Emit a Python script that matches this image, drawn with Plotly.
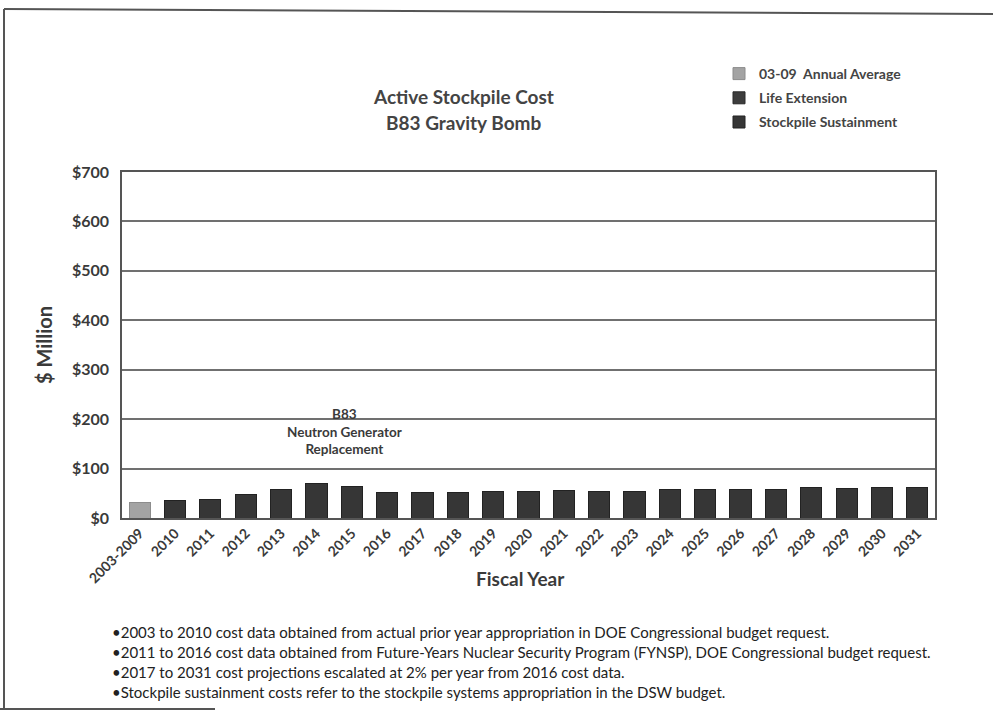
import plotly.graph_objects as go

# Fiscal-year categories and costs ($ million)
years = ["2003-2009", "2010", "2011", "2012", "2013", "2014", "2015", "2016",
         "2017", "2018", "2019", "2020", "2021", "2022", "2023", "2024",
         "2025", "2026", "2027", "2028", "2029", "2030", "2031"]
annual_average = [32, None, None, None, None, None, None, None, None, None, None, None,
                  None, None, None, None, None, None, None, None, None, None, None]
life_extension = [None] * len(years)
sustainment = [None, 36, 38, 48, 57, 70, 64, 51, 51, 51, 53, 53, 55, 54, 54, 57,
               57, 58, 57, 61, 59, 62, 62]

footnotes = [
    "•2003 to 2010 cost data obtained from actual prior year appropriation in DOE Congressional budget request.",
    "•2011 to 2016 cost data obtained from Future-Years Nuclear Security Program (FYNSP), DOE Congressional budget request.",
    "•2017 to 2031 cost projections escalated at 2% per year from 2016 cost data.",
    "•Stockpile sustainment costs refer to the stockpile systems appropriation in the DSW budget.",
]

FONT = "Lato"
TXT = "#3a3a3a"

# plot-area geometry in pixels, used to place paper-referenced items
W, H = 993, 713
L, R, T, B = 122, 935, 172, 518


def px(x):
    return (x - L) / (R - L)


def py(y):
    return (B - y) / (B - T)


fig = go.Figure()
fig.add_bar(x=years, y=annual_average, name="<b>03-09  Annual Average</b>",
            marker=dict(color="#a3a3a3", line=dict(color="#8c8c8c", width=1)),
            legendgroup="a")
fig.add_bar(x=years, y=life_extension, name="<b>Life Extension</b>",
            marker=dict(color="#3d3d3d", line=dict(color="#2a2a2a", width=1)),
            legendgroup="b")
fig.add_bar(x=years, y=sustainment, name="<b>Stockpile Sustainment</b>",
            marker=dict(color="#363636", line=dict(color="#222222", width=1)),
            legendgroup="c")


def note(text, x, y, size, xref="paper", xanchor="center", color=TXT, align="center"):
    return dict(text=text, x=x, y=y, xref=xref, yref="paper", xanchor=xanchor,
                yanchor="middle", showarrow=False, align=align,
                font=dict(family=FONT, size=size, color=color))


annotations = [
    note("<b>Active Stockpile Cost</b>", px(463), py(97), 19, color="#444444"),
    note("<b>B83 Gravity Bomb</b>", px(463), py(123), 19, color="#444444"),
    note("<b>B83<br>Neutron Generator<br>Replacement</b>", 5.8, py(431), 13.5, xref="x"),
    note("<b>Fiscal Year</b>", px(520), py(578), 19),
]
for i, line in enumerate(footnotes):
    annotations.append(note(line, px(110), py(632 + 20 * i), 15, xanchor="left",
                            color="#222222", align="left"))

shapes = [
    dict(type="line", xref="paper", yref="paper", x0=px(4), y0=py(9), x1=px(993), y1=py(14),
         line=dict(color="#555555", width=2)),
    dict(type="line", xref="paper", yref="paper", x0=px(4), y0=py(9), x1=px(4), y1=py(709),
         line=dict(color="#555555", width=2)),
    dict(type="line", xref="paper", yref="paper", x0=px(0), y0=py(709), x1=px(215), y1=py(709),
         line=dict(color="#555555", width=2)),
]

fig.update_layout(
    width=W, height=H,
    margin=dict(l=L, r=W - R, t=T, b=H - B, pad=0),
    paper_bgcolor="white", plot_bgcolor="white",
    barmode="stack", bargap=0.4,
    font=dict(family=FONT, color=TXT),
    showlegend=True,
    legend=dict(x=px(719), y=py(58), xanchor="left", yanchor="top",
                traceorder="grouped", tracegroupgap=3, itemwidth=30,
                font=dict(family=FONT, size=14, color="#444444"),
                bgcolor="rgba(0,0,0,0)"),
    annotations=annotations,
    shapes=shapes,
)
fig.update_xaxes(
    type="category", tickangle=-45, showgrid=False,
    showline=True, linecolor="#555555", linewidth=1.5, mirror=True,
    ticks="", tickfont=dict(family=FONT, size=14, color=TXT),
    tickprefix="<b>", ticksuffix="</b>",
)
fig.update_yaxes(
    range=[0, 700], dtick=100, tickprefix="<b>$", ticksuffix="</b>",
    showgrid=True, gridcolor="#707070", gridwidth=1.5,
    showline=True, linecolor="#555555", linewidth=1.5, mirror=True,
    zeroline=False, ticks="", ticklen=0, ticklabelstandoff=8,
    tickfont=dict(family=FONT, size=16, color=TXT),
    title=dict(text="<b>$ Million</b>", font=dict(family=FONT, size=20, color=TXT), standoff=14),
)

fig.write_html("out.html")
